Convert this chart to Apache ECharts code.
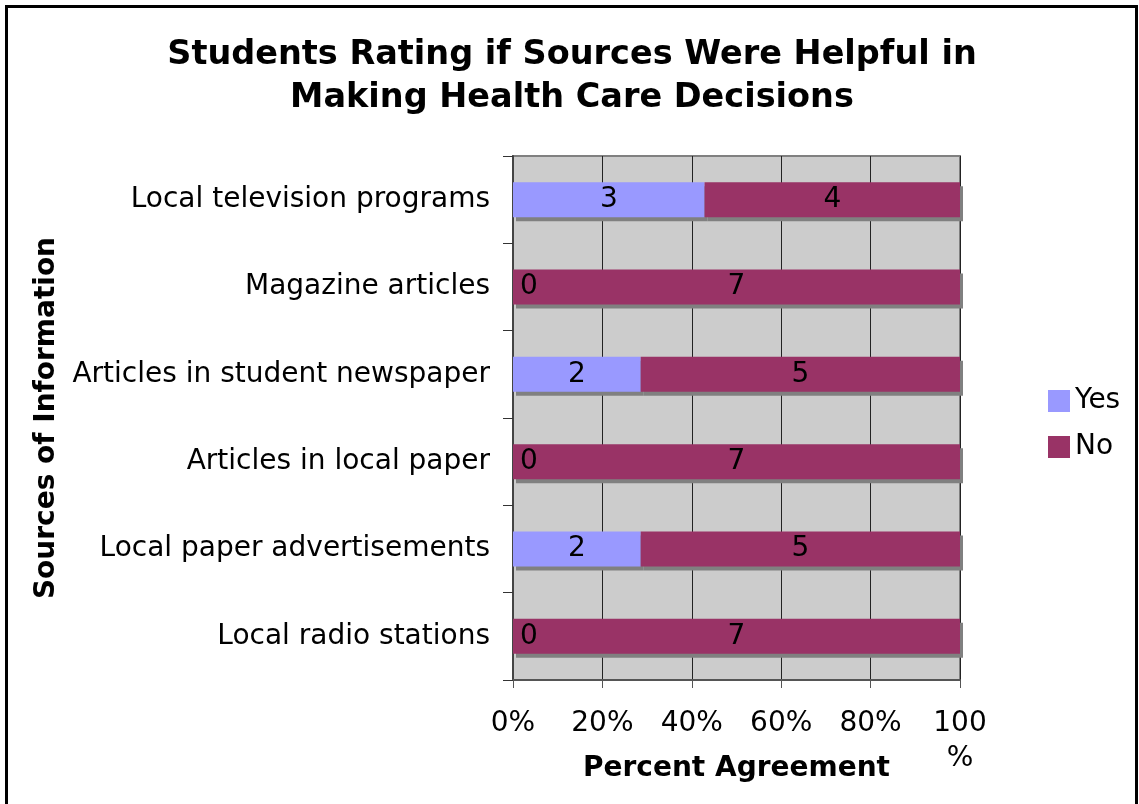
<!DOCTYPE html>
<html>
<head>
<meta charset="utf-8">
<script src="https://cdn.jsdelivr.net/npm/echarts@6/dist/echarts.min.js"></script>
<style>
html,body{margin:0;padding:0;background:#fff;}
#chart{width:1139px;height:804px;}
</style>
</head>
<body>
<div id="chart"></div>
<script>
const categories = [
  'Local television programs',
  'Magazine articles',
  'Articles in student newspaper',
  'Articles in local paper',
  'Local paper advertisements',
  'Local radio stations'
];
const yesCounts = [3, 0, 2, 0, 2, 0];
const noCounts = [4, 7, 5, 7, 5, 7];
const xTicks = [0, 20, 40, 60, 80, 100];

const chart = echarts.init(document.getElementById('chart'), null, {renderer: 'canvas'});

function pct(a, b) { return a / (a + b) * 100; }

const shadow = {shadowColor: '#808080', shadowOffsetX: 3, shadowOffsetY: 4, shadowBlur: 0};

const yesData = yesCounts.map((c, i) => ({
  value: pct(c, noCounts[i]),
  count: c,
  label: c === 0 ? {position: 'insideLeft', distance: 7} : {position: 'inside'}
}));
const noData = noCounts.map((c, i) => ({
  value: pct(c, yesCounts[i]),
  count: c
}));

const font = 'DejaVu Sans, Verdana, sans-serif';

chart.setOption({
  animation: false,
  textStyle: {fontFamily: font},
  graphic: [{
    type: 'rect',
    shape: {x: 6.5, y: 6.5, width: 1130, height: 840},
    style: {fill: 'none', stroke: '#000', lineWidth: 3},
    silent: true
  }],
  title: {
    text: 'Students Rating if Sources Were Helpful in\nMaking Health Care Decisions',
    left: 567,
    top: 29,
    textAlign: 'center',
    textStyle: {fontFamily: font, fontSize: 33.5, fontWeight: 'bold', color: '#000', lineHeight: 43}
  },
  legend: {
    orient: 'vertical',
    left: 1043,
    top: 382,
    itemWidth: 22,
    itemHeight: 22,
    itemGap: 18,
    icon: 'rect',
    textStyle: {fontFamily: font, fontSize: 28, color: '#000', lineHeight: 22},
    data: ['Yes', 'No']
  },
  grid: {
    left: 513, right: 179, top: 156, bottom: 124,
    outerBoundsMode: 'none',
    containLabel: false,
    show: true,
    backgroundColor: '#CCCCCC',
    borderColor: '#808080',
    borderWidth: 2
  },
  xAxis: {
    type: 'value',
    min: 0, max: 100, interval: 20,
    name: 'Percent Agreement',
    nameLocation: 'middle',
    nameGap: 75,
    nameMoveOverlap: false,
    nameTextStyle: {fontFamily: font, fontSize: 28, fontWeight: 'bold', color: '#000'},
    axisLine: {show: true, lineStyle: {color: '#555', width: 2}},
    axisTick: {show: true, length: 8, lineStyle: {color: '#555', width: 1}},
    axisLabel: {
      fontFamily: font, fontSize: 28, color: '#000', margin: 26, lineHeight: 35,
      formatter: v => (v === 100 ? '100\n%' : v + '%')
    },
    splitLine: {show: true, lineStyle: {color: '#222', width: 1}}
  },
  yAxis: {
    type: 'category',
    data: categories,
    inverse: true,
    name: 'Sources of Information',
    nameLocation: 'middle',
    nameGap: 452,
    nameMoveOverlap: false,
    nameRotate: 90,
    nameTextStyle: {fontFamily: font, fontSize: 28, fontWeight: 'bold', color: '#000'},
    axisLine: {show: true, lineStyle: {color: '#444', width: 2}},
    axisTick: {show: true, length: 10, interval: 0, lineStyle: {color: '#333', width: 1}},
    axisLabel: {fontFamily: font, fontSize: 28, color: '#000', margin: 23},
    splitLine: {show: false}
  },
  series: [
    {
      name: 'Yes', type: 'bar', stack: 'total', barWidth: '40%',
      itemStyle: Object.assign({color: '#9999FF'}, shadow),
      label: {show: true, fontFamily: font, fontSize: 28, color: '#000',
        formatter: p => String(p.data.count)},
      data: yesData
    },
    {
      name: 'No', type: 'bar', stack: 'total', barWidth: '40%',
      itemStyle: Object.assign({color: '#993366'}, shadow),
      label: {show: true, position: 'inside', fontFamily: font, fontSize: 28, color: '#000',
        formatter: p => String(p.data.count)},
      data: noData
    }
  ]
});
</script>
</body>
</html>
